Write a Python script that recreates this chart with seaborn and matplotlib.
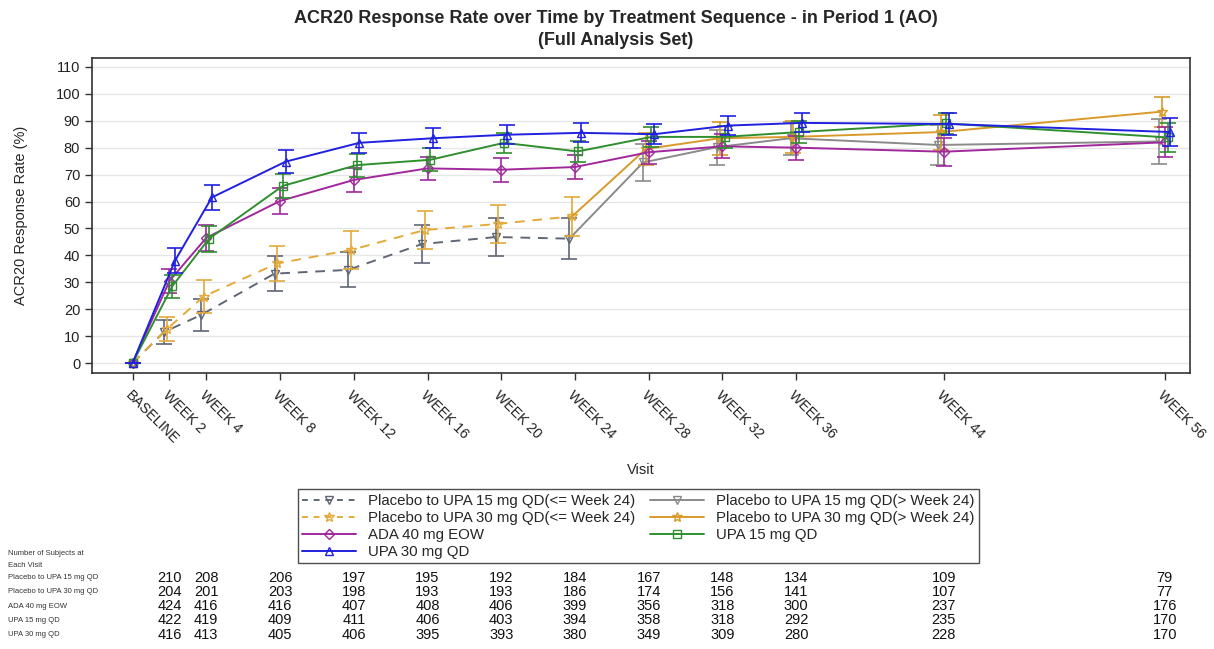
import numpy as np
import pandas as pd
import seaborn as sns
import matplotlib.pyplot as plt
from matplotlib.transforms import blended_transform_factory

visits = ['BASELINE', 'WEEK 2', 'WEEK 4', 'WEEK 8', 'WEEK 12', 'WEEK 16', 'WEEK 20',
          'WEEK 24', 'WEEK 28', 'WEEK 32', 'WEEK 36', 'WEEK 44', 'WEEK 56']
weeks = [0, 2, 4, 8, 12, 16, 20, 24, 28, 32, 36, 44, 56]

# response rates (%)
pbo15 = [0, 11.5, 17.8, 33.2, 34.6, 44.2, 46.8, 46.2, 74.5, 80.2, 83.5, 81.0, 82.3]
pbo30 = [0, 12.5, 24.7, 37.0, 42.0, 49.4, 51.7, 54.5, 79.5, 83.5, 84.0, 85.8, 93.4]
ada40 = [0, 30.5, 46.5, 60.2, 68.0, 72.3, 71.8, 72.8, 78.3, 80.5, 80.0, 78.5, 82.0]
upa15 = [0, 28.5, 46.2, 65.8, 73.5, 75.5, 81.8, 78.6, 84.0, 84.0, 85.8, 89.0, 83.8]
upa30 = [0, 38.0, 61.5, 74.8, 81.8, 83.5, 84.8, 85.5, 85.0, 88.2, 89.2, 88.8, 85.8]

# half widths of the 95% CI bars
pbo15_ci = [0, 4.5, 6.0, 6.5, 6.5, 7.0, 7.0, 7.5, 7.0, 6.5, 6.2, 7.5, 8.3]
pbo30_ci = [0, 4.5, 6.0, 6.5, 7.0, 7.0, 7.0, 7.2, 6.0, 6.2, 6.0, 6.5, 5.6]
ada40_ci = [0, 4.5, 4.8, 4.7, 4.5, 4.3, 4.4, 4.4, 4.3, 4.4, 4.5, 5.2, 5.6]
upa15_ci = [0, 4.3, 4.8, 4.6, 4.3, 4.2, 3.8, 4.0, 3.8, 4.0, 4.0, 3.8, 5.5]
upa30_ci = [0, 4.7, 4.7, 4.2, 3.8, 3.7, 3.6, 3.5, 3.7, 3.6, 3.5, 4.0, 5.3]

# number of subjects at each visit (week 2 .. week 56)
n_rows = ['Placebo to UPA 15 mg QD', 'Placebo to UPA 30 mg QD', 'ADA 40 mg EOW',
          'UPA 15 mg QD', 'UPA 30 mg QD']
n_pbo15 = [210, 208, 206, 197, 195, 192, 184, 167, 148, 134, 109, 79]
n_pbo30 = [204, 201, 203, 198, 193, 193, 186, 174, 156, 141, 107, 77]
n_ada40 = [424, 416, 416, 407, 408, 406, 399, 356, 318, 300, 237, 176]
n_upa15 = [422, 419, 409, 411, 406, 403, 394, 358, 318, 292, 235, 170]
n_upa30 = [416, 413, 405, 406, 395, 393, 380, 349, 309, 280, 228, 170]

sns.set_theme(style='white')
plt.rcParams['font.family'] = ['Liberation Sans', 'DejaVu Sans']

fig = plt.figure(figsize=(12.14, 6.49), dpi=100)
ax = fig.add_axes([0.0758, 0.4253, 0.9042, 0.4853])

wk = np.array(weeks, dtype=float)
cut = weeks.index(24)

# (label, values, ci, index range, color, marker, dashed, x shift)
series = [
    ('Placebo to UPA 15 mg QD(<= Week 24)', pbo15, pbo15_ci, slice(0, cut + 1), '#5f6675', 'v', True, -0.3),
    ('Placebo to UPA 15 mg QD(> Week 24)', pbo15, pbo15_ci, slice(cut, None), '#8a8a8a', 'v', False, -0.3),
    ('Placebo to UPA 30 mg QD(<= Week 24)', pbo30, pbo30_ci, slice(0, cut + 1), '#e3aa3a', '*', True, -0.15),
    ('Placebo to UPA 30 mg QD(> Week 24)', pbo30, pbo30_ci, slice(cut, None), '#d99a2b', '*', False, -0.15),
    ('ADA 40 mg EOW', ada40, ada40_ci, slice(None), '#a0289c', 'D', False, 0.0),
    ('UPA 15 mg QD', upa15, upa15_ci, slice(None), '#2f8f2f', 's', False, 0.15),
    ('UPA 30 mg QD', upa30, upa30_ci, slice(None), '#2020e0', '^', False, 0.3),
]

handles = {}
for label, vals, ci, sl, col, mk, dashed, dx in series:
    xs = np.where(wk > 0, wk + dx, wk)[sl]
    df = pd.DataFrame({'week': xs, 'rate': np.array(vals)[sl], 'ci': np.array(ci)[sl]})
    skip_first = (sl.start == cut)
    ms = 7 if mk == '*' else 5.5
    sns.lineplot(data=df, x='week', y='rate', ax=ax, color=col, lw=1.4,
                 linestyle=(0, (5, 4)) if dashed else '-', marker=mk, markersize=ms,
                 markerfacecolor='none', markeredgecolor=col, markeredgewidth=1.0,
                 markevery=slice(1, None) if skip_first else None, errorbar=None)
    pts = df.iloc[1:] if skip_first else df
    ax.errorbar(pts['week'], pts['rate'], yerr=pts['ci'], fmt='none', ecolor=col,
                elinewidth=1.2, capsize=6, capthick=1.2)
    handles[label] = plt.Line2D([], [], color=col, lw=1.4,
                                linestyle=(0, (3, 3)) if dashed else '-', marker=mk,
                                markersize=ms, markerfacecolor='none', markeredgecolor=col)

ax.set_xlim(-2.2, 57.35)
ax.set_ylim(-3.7, 113.3)
ax.set_yticks(range(0, 111, 10))
ax.set_xticks(weeks)
ax.set_xticklabels(visits, rotation=-45, ha='left', va='top', rotation_mode='anchor',
                   fontsize=10.2, color='#222222')
ax.tick_params(axis='y', labelsize=10.5, labelcolor='#222222')
ax.tick_params(axis='both', direction='out', length=5, width=1, color='#333333',
               bottom=True, left=True)
ax.tick_params(axis='x', pad=6)
ax.yaxis.grid(True, color='#e6e6e6', lw=1)
ax.set_axisbelow(True)
for s in ax.spines.values():
    s.set_color('#333333')
    s.set_linewidth(1.2)

ax.set_xlabel('Visit', fontsize=10.5, labelpad=12)
ax.set_ylabel('ACR20 Response Rate (%)', fontsize=10.5, labelpad=20)
fig.text(0.507, 0.972, 'ACR20 Response Rate over Time by Treatment Sequence - in Period 1 (AO)',
         ha='center', va='center', fontsize=13, fontweight='bold')
fig.text(0.507, 0.938, '(Full Analysis Set)', ha='center', va='center', fontsize=13,
         fontweight='bold')

order = ['Placebo to UPA 15 mg QD(<= Week 24)', 'Placebo to UPA 30 mg QD(<= Week 24)',
         'ADA 40 mg EOW', 'UPA 30 mg QD',
         'Placebo to UPA 15 mg QD(> Week 24)', 'Placebo to UPA 30 mg QD(> Week 24)',
         'UPA 15 mg QD']
leg = fig.legend([handles[k] for k in order], order, ncol=2, loc='center',
                 bbox_to_anchor=(0.526, 0.1888), fontsize=10.8, frameon=True, fancybox=False,
                 handlelength=3.6, handletextpad=0.8, columnspacing=1.0, labelspacing=0.2,
                 borderpad=0.3)
leg.get_frame().set_edgecolor('#222222')
leg.get_frame().set_linewidth(1.0)

# number of subjects table
fig.text(0.007, 0.138, 'Number of Subjects at\nEach Visit', ha='left', va='center',
         fontsize=5.5, linespacing=2.0, color='#333333')
tr = blended_transform_factory(ax.transData, fig.transFigure)
table = [n_pbo15, n_pbo30, n_ada40, n_upa15, n_upa30]
row_y = [0.110, 0.088, 0.066, 0.044, 0.022]
for name, counts, y in zip(n_rows, table, row_y):
    fig.text(0.007, y, name, ha='left', va='center', fontsize=5.5, color='#333333')
    for w, n in zip(weeks[1:], counts):
        ax.text(w, y, str(n), transform=tr, ha='center', va='center', fontsize=10.5,
                color='#111111', clip_on=False)

fig.savefig('out.png', dpi=100)
